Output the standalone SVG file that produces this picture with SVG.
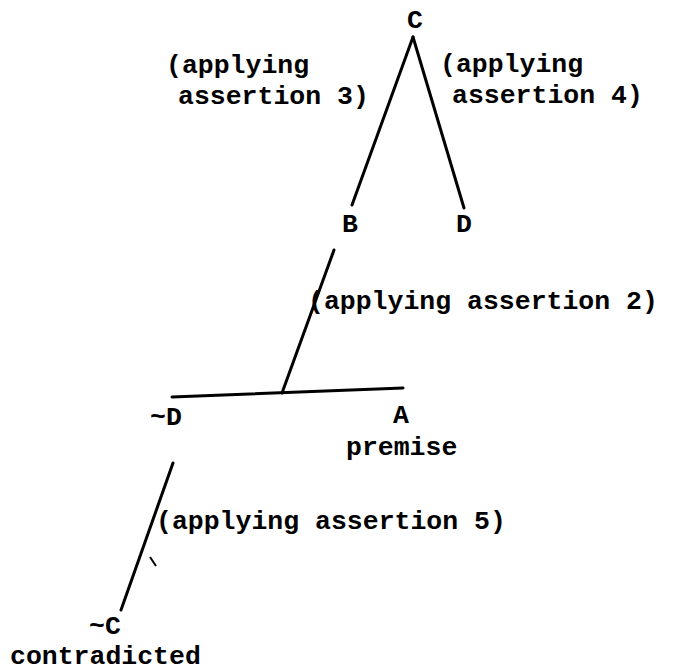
<svg xmlns="http://www.w3.org/2000/svg" width="680" height="672" viewBox="0 0 680 672">
<style>
text{font-family:"Liberation Mono","DejaVu Sans Mono",monospace;font-weight:bold;font-size:26.5px;fill:#000}
.e{stroke:#000;stroke-width:3;stroke-linecap:round;fill:none}
</style>
<rect width="680" height="672" fill="#fff"/>
<g id="connectors">
<line class="e" x1="413" y1="37" x2="352" y2="205"/>
<line class="e" x1="413" y1="37" x2="464" y2="208"/>
<line class="e" x1="334" y1="250" x2="282" y2="393"/>
<line class="e" x1="172" y1="397" x2="403" y2="388"/>
<line class="e" x1="173" y1="463" x2="121" y2="610"/>
<line x1="150" y1="557" x2="156" y2="566" stroke="#000" stroke-width="2"/>
</g>
<g id="labels">
<text x="166" y="73">(applying</text>
<text x="178" y="104">assertion 3)</text>
<text x="440" y="72">(applying</text>
<text x="452" y="103">assertion 4)</text>
<text x="308" y="309">(applying assertion 2)</text>
<text x="156" y="529">(applying assertion 5)</text>
</g>
<g id="node-C"><text x="415" y="28" text-anchor="middle">C</text></g>
<g id="node-B"><text x="350" y="232" text-anchor="middle">B</text></g>
<g id="node-D"><text x="464" y="232" text-anchor="middle">D</text></g>
<g id="node-notD"><text x="150" y="425">~D</text></g>
<g id="node-A"><text x="401" y="423" text-anchor="middle">A</text><text x="346" y="455">premise</text></g>
<g id="node-notC"><text x="89" y="634">~C</text><text x="10" y="664">contradicted</text></g>
</svg>
